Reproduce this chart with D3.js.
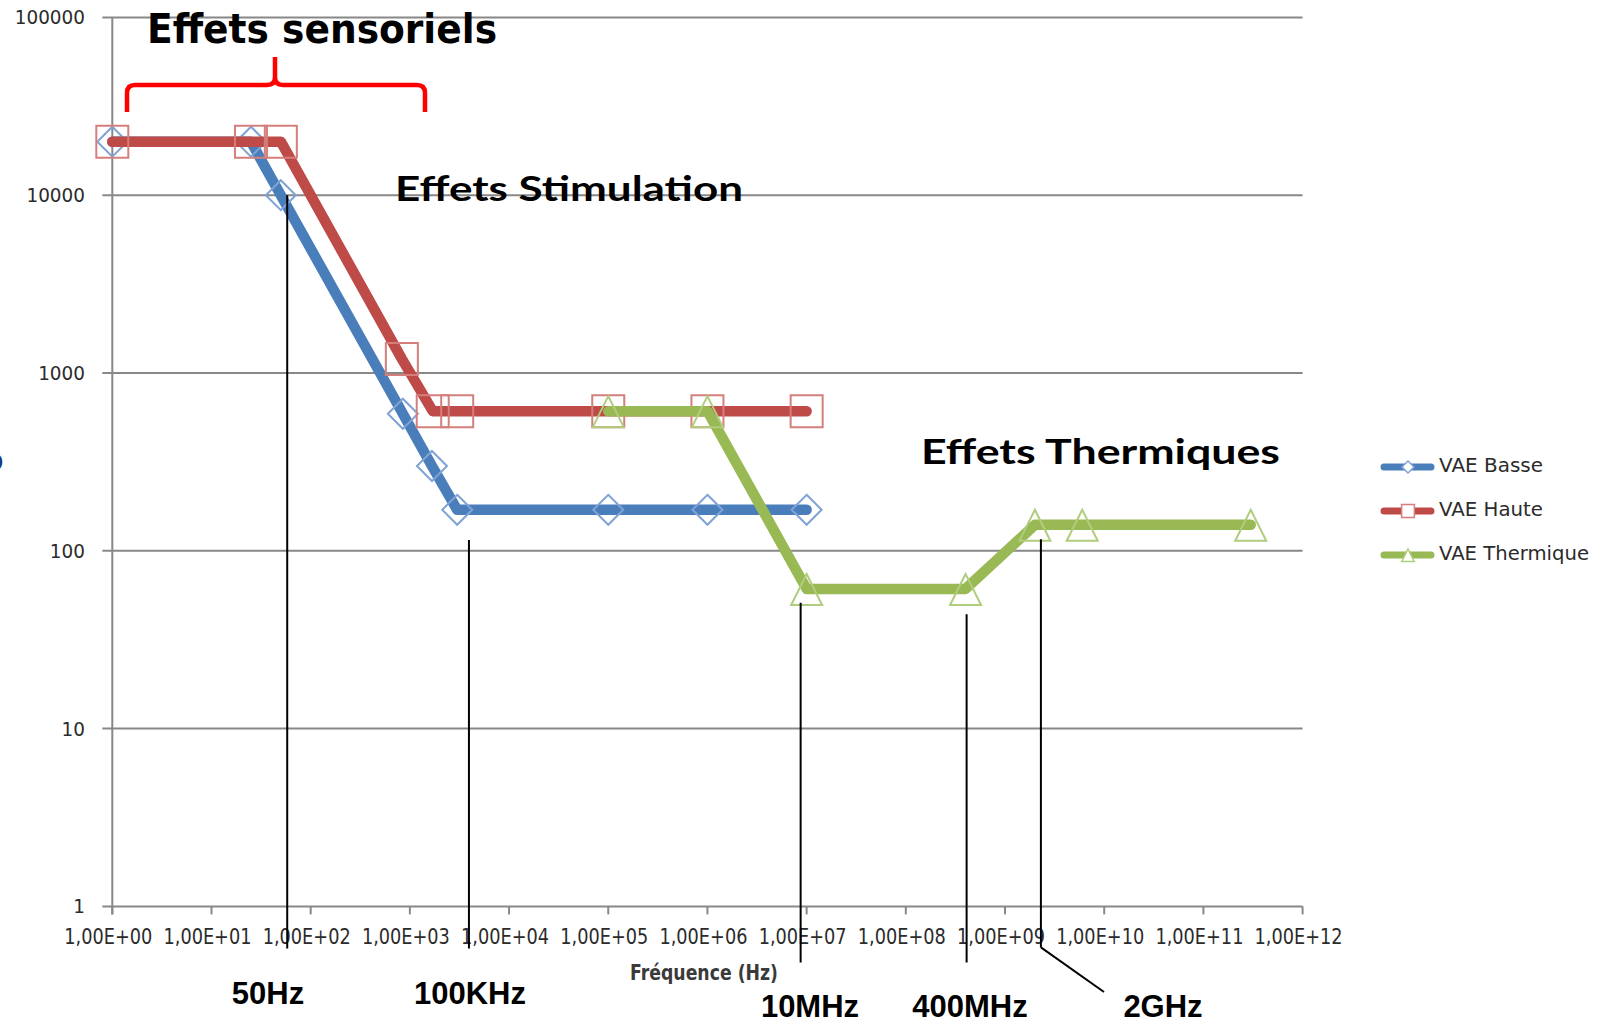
<!DOCTYPE html>
<html>
<head>
<meta charset="utf-8">
<script src="https://cdn.jsdelivr.net/npm/d3@7"></script>
<style>
  html, body { margin: 0; padding: 0; background: #ffffff; }
  svg { display: block; }
</style>
</head>
<body>
<svg id="chart" width="1604" height="1024"></svg>
<script>
// ---------------- DATA ----------------
const xTickValues = [1e0, 1e1, 1e2, 1e3, 1e4, 1e5, 1e6, 1e7, 1e8, 1e9, 1e10, 1e11, 1e12];
const xTickLabels = ["1,00E+00","1,00E+01","1,00E+02","1,00E+03","1,00E+04","1,00E+05","1,00E+06",
                     "1,00E+07","1,00E+08","1,00E+09","1,00E+10","1,00E+11","1,00E+12"];
const yTickValues = [1, 10, 100, 1000, 10000, 100000];
const yTickLabels = ["1", "10", "100", "1000", "10000", "100000"];
const xAxisTitle = "Fréquence (Hz)";

const seriesNames = ["VAE Basse", "VAE Haute", "VAE Thermique"];
const basseFreq  = [1, 25, 50, 850, 1670, 3000, 1e5, 1e6, 1e7];
const basseVal   = [20000, 20000, 10000, 590, 300, 170, 170, 170, 170];
const hauteFreq  = [1, 25, 50, 830, 1700, 3000, 1e5, 1e6, 1e7];
const hauteVal   = [20000, 20000, 20000, 1200, 610, 610, 610, 610, 610];
const thermFreq  = [1e5, 1e6, 1e7, 4e8, 2e9, 6e9, 3e11];
const thermVal   = [610, 610, 61, 61, 140, 140, 140];

const zoneTitles = ["Effets sensoriels", "Effets Stimulation", "Effets Thermiques"];
const annotLabels = ["50Hz", "100KHz", "10MHz", "400MHz", "2GHz"];
const annotFreq   = [58, 3940, 8.7e6, 4.1e8, 2.3e9];
const annotTopVal = [10000, 115, 51, 44, 116];

// ---------------- LAYOUT ----------------
const plot = { left: 112.3, right: 1302.6, top: 17.4, bottom: 906.4 };
const colors = { basse: "#4a7ebb", haute: "#be4b48", therm: "#98b954" };
const markerColors = { basse: "#7fa3d6", haute: "#d47f7c", therm: "#b0cd7d" };

const svg = d3.select("#chart");
const x = d3.scaleLog().domain([1, 1e12]).range([plot.left, plot.right]);
const y = d3.scaleLog().domain([1, 1e5]).range([plot.bottom, plot.top]);

const gridColor = "#888888";

// horizontal gridlines (incl. the x-axis at 1)
svg.append("g").selectAll("line").data(yTickValues).join("line")
  .attr("x1", plot.left - 10).attr("x2", plot.right)
  .attr("y1", d => y(d)).attr("y2", d => y(d))
  .attr("stroke", gridColor).attr("stroke-width", 2);

// y axis line
svg.append("line")
  .attr("x1", plot.left).attr("x2", plot.left)
  .attr("y1", plot.top).attr("y2", plot.bottom + 8)
  .attr("stroke", gridColor).attr("stroke-width", 2);

// x ticks
svg.append("g").selectAll("line").data(xTickValues).join("line")
  .attr("x1", d => x(d)).attr("x2", d => x(d))
  .attr("y1", plot.bottom).attr("y2", plot.bottom + 8)
  .attr("stroke", gridColor).attr("stroke-width", 2);

const tickFont = "DejaVu Sans, sans-serif";
// y tick labels
svg.append("g").selectAll("text").data(yTickValues).join("text")
  .attr("x", 85).attr("y", d => y(d))
  .attr("text-anchor", "end").attr("dominant-baseline", "central")
  .attr("font-family", tickFont).attr("font-size", 20).attr("fill", "#2b2b2b")
  .text((d, i) => yTickLabels[i])
  .each(function() {
    const n = this.getComputedTextLength();
    d3.select(this).attr("textLength", n * 0.92).attr("lengthAdjust", "spacingAndGlyphs");
  });

// x tick labels
svg.append("g").selectAll("text").data(xTickValues).join("text")
  .attr("x", d => x(d) - 4).attr("y", 937)
  .attr("text-anchor", "middle").attr("dominant-baseline", "central")
  .attr("font-family", tickFont).attr("font-size", 21).attr("fill", "#2b2b2b")
  .attr("textLength", 88).attr("lengthAdjust", "spacingAndGlyphs")
  .text((d, i) => xTickLabels[i]);

// x axis title
svg.append("text")
  .attr("x", 704).attr("y", 980)
  .attr("text-anchor", "middle")
  .attr("font-family", tickFont).attr("font-weight", "bold").attr("font-size", 21)
  .attr("fill", "#3a3a3a")
  .attr("textLength", 148).attr("lengthAdjust", "spacingAndGlyphs")
  .text(xAxisTitle);

// clipped y axis title remnant at left edge (as in the reference)
svg.append("text")
  .attr("x", -17).attr("y", 471)
  .attr("font-family", tickFont).attr("font-weight", "bold").attr("font-size", 24)
  .attr("fill", "#1f3a7a").text("O");

// ---------------- SERIES ----------------
const line = d3.line().x(d => x(d.f)).y(d => y(d.v));
const mk = (fs, vs) => fs.map((f, i) => ({ f: f, v: vs[i] }));
const series = [
  { key: "basse", data: mk(basseFreq, basseVal), shape: "diamond" },
  { key: "haute", data: mk(hauteFreq, hauteVal), shape: "square" },
  { key: "therm", data: mk(thermFreq, thermVal), shape: "triangle" }
];

function shapePath(shape, s) {
  if (shape === "diamond") return `M0,${-15*s}L${15*s},0L0,${15*s}L${-15*s},0Z`;
  if (shape === "square") return `M${-16*s},${-16*s}H${16*s}V${16*s}H${-16*s}Z`;
  return `M0,${-15*s}L${15.5*s},${16*s}L${-15.5*s},${16*s}Z`;
}

series.forEach(s => {
  svg.append("path").datum(s.data)
    .attr("d", line).attr("fill", "none")
    .attr("stroke", colors[s.key]).attr("stroke-width", 10.5)
    .attr("stroke-linecap", "round").attr("stroke-linejoin", "round");
  svg.append("g").selectAll("path").data(s.data).join("path")
    .attr("transform", d => `translate(${x(d.f)},${y(d.v)})`)
    .attr("d", shapePath(s.shape, 1))
    .attr("fill", "none").attr("stroke", markerColors[s.key]).attr("stroke-width", 2);
});

// ---------------- LEGEND ----------------
const legend = svg.append("g");
series.forEach((s, i) => {
  const ly = 467 + i * 44;
  legend.append("line").attr("x1", 1384).attr("x2", 1431).attr("y1", ly).attr("y2", ly)
    .attr("stroke", colors[s.key]).attr("stroke-width", 7).attr("stroke-linecap", "round");
  legend.append("path").attr("transform", `translate(1408,${ly})`)
    .attr("d", shapePath(s.shape, 0.4))
    .attr("fill", "#fff").attr("stroke", markerColors[s.key]).attr("stroke-width", 1.5);
  legend.append("text").attr("x", 1439).attr("y", ly - 2)
    .attr("dominant-baseline", "central")
    .attr("font-family", tickFont).attr("font-size", 19).attr("fill", "#2b2b2b")
    .attr("textLength", i === 2 ? 150 : 104).attr("lengthAdjust", "spacingAndGlyphs")
    .text(seriesNames[i]);
});

// ---------------- ANNOTATIONS ----------------
// red brace
const bx1 = 127, bx2 = 425, bmid = 275, by = 85, bend = 112, bpeak = 57;
svg.append("path")
  .attr("d", `M${bx1},${bend} L${bx1},${by+8} Q${bx1},${by} ${bx1+8},${by} L${bmid-8},${by} Q${bmid},${by} ${bmid},${by-8} L${bmid},${bpeak}
              M${bmid},${by-8} Q${bmid},${by} ${bmid+8},${by} L${bx2-8},${by} Q${bx2},${by} ${bx2},${by+8} L${bx2},${bend}`)
  .attr("fill", "none").attr("stroke", "#ff0000").attr("stroke-width", 4.5)
  .attr("stroke-linejoin", "round");

// zone titles
svg.append("text").attr("x", 147).attr("y", 43)
  .attr("font-family", "DejaVu Sans, sans-serif").attr("font-weight", "bold").attr("font-size", 40)
  .attr("fill", "#000").attr("textLength", 350).attr("lengthAdjust", "spacingAndGlyphs")
  .text(zoneTitles[0]);
svg.append("text").attr("x", 395).attr("y", 201)
  .attr("font-family", "Lato, sans-serif").attr("font-weight", "bold").attr("font-size", 35)
  .attr("fill", "#000").attr("textLength", 348).attr("lengthAdjust", "spacingAndGlyphs")
  .text(zoneTitles[1]);
svg.append("text").attr("x", 921).attr("y", 464)
  .attr("font-family", "Lato, sans-serif").attr("font-weight", "bold").attr("font-size", 35)
  .attr("fill", "#000").attr("textLength", 359).attr("lengthAdjust", "spacingAndGlyphs")
  .text(zoneTitles[2]);

// vertical marker lines + labels
const annBottom = [plot.bottom + 42, plot.bottom + 42, plot.bottom + 56, plot.bottom + 56, plot.bottom + 41];
const annLabelX = [268, 470, 810, 970, 1163];
const annLabelY = [1004, 1004, 1017, 1017, 1017];
annotFreq.forEach((f, i) => {
  const ax = x(f);
  svg.append("line").attr("x1", ax).attr("x2", ax)
    .attr("y1", y(annotTopVal[i])).attr("y2", annBottom[i])
    .attr("stroke", "#000").attr("stroke-width", 2);
  svg.append("text").attr("x", annLabelX[i]).attr("y", annLabelY[i])
    .attr("text-anchor", "middle")
    .attr("font-family", "Liberation Sans, Arial, sans-serif").attr("font-weight", "bold").attr("font-size", 31)
    .attr("fill", "#000").text(annotLabels[i]);
});
// diagonal leader for 2GHz
svg.append("line")
  .attr("x1", x(annotFreq[4])).attr("y1", annBottom[4])
  .attr("x2", 1104).attr("y2", 992)
  .attr("stroke", "#000").attr("stroke-width", 2);
</script>
</body>
</html>
